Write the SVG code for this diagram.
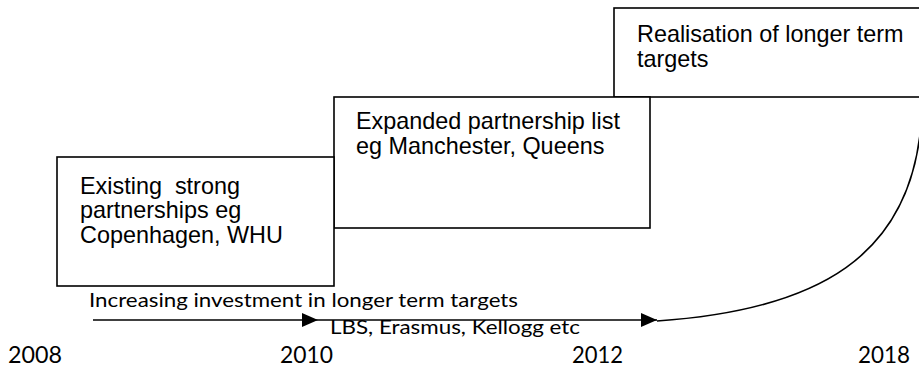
<svg xmlns="http://www.w3.org/2000/svg" width="919" height="371" viewBox="0 0 919 371">
<style>
.box{fill:#fff;stroke:#000;stroke-width:1.6}
.bt{font-family:"Liberation Sans",Arial,sans-serif;font-size:23.4px;fill:#000}
.gt{font-family:Lato,"Open Sans",sans-serif;font-size:19px;fill:#000}
.yr{font-family:Lato,"Open Sans",sans-serif;font-size:23.5px;fill:#000}
.ln{fill:none;stroke:#000;stroke-width:1.6}
</style>
<defs>
<marker id="ah" markerWidth="16" markerHeight="14" refX="16" refY="7" orient="auto" markerUnits="userSpaceOnUse">
<path d="M0,0 L16,7 L0,14 Z" fill="#000"/>
</marker>
</defs>
<rect width="919" height="371" fill="#fff"/>
<g id="node-realisation">
<rect class="box" x="614" y="8" width="320" height="89"/>
<text class="bt" x="637" y="42">Realisation of longer term</text>
<text class="bt" x="637" y="67">targets</text>
</g>
<g id="node-expanded">
<rect class="box" x="334" y="97" width="316" height="131"/>
<text class="bt" x="356" y="129">Expanded partnership list</text>
<text class="bt" x="356" y="154">eg Manchester, Queens</text>
</g>
<g id="node-existing">
<rect class="box" x="57" y="157" width="277" height="129"/>
<text class="bt" x="80" y="194" xml:space="preserve">Existing  strong</text>
<text class="bt" x="80" y="218">partnerships eg</text>
<text class="bt" x="80" y="243">Copenhagen, WHU</text>
</g>
<g id="connectors">
<line class="ln" x1="93" y1="320" x2="318" y2="320" marker-end="url(#ah)"/>
<line class="ln" x1="318" y1="320" x2="657" y2="320" marker-end="url(#ah)"/>
<path class="ln" d="M657,321 C820,310 910,255 921,125"/>
</g>
<g id="labels">
<text class="gt" x="89" y="307" textLength="429" lengthAdjust="spacingAndGlyphs">Increasing investment in longer term targets</text>
<text class="gt" x="330" y="334" textLength="250" lengthAdjust="spacingAndGlyphs">LBS, Erasmus, Kellogg etc</text>
<text class="yr" x="8" y="363" textLength="54" lengthAdjust="spacingAndGlyphs">2008</text>
<text class="yr" x="280" y="363" textLength="53" lengthAdjust="spacingAndGlyphs">2010</text>
<text class="yr" x="572" y="363" textLength="51" lengthAdjust="spacingAndGlyphs">2012</text>
<text class="yr" x="858" y="363" textLength="52" lengthAdjust="spacingAndGlyphs">2018</text>
</g>
</svg>
